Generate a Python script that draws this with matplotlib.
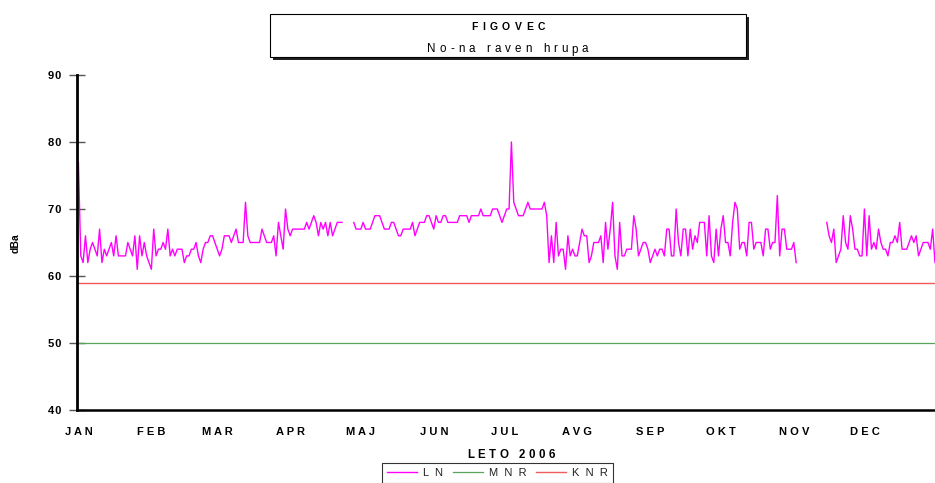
import numpy as np
import matplotlib
matplotlib.use("Agg")
import matplotlib.pyplot as plt
from matplotlib.patches import Rectangle
from matplotlib.font_manager import FontProperties

FAM = ['Liberation Sans', 'DejaVu Sans']
plt.rcParams['font.family'] = FAM

N = None
ln_jan = [77,63,62,66,62,64,65,64,63,67,62,64,63,64,65,63,66,63,63,63,63,65,64,63,66,61,66,63,65,63,62]
ln_feb = [61,67,63,64,64,65,64,67,63,64,63,64,64,64,62,63,63,64,64,65,63,62,64,65,65,66,66,65]
ln_mar = [64,63,64,66,66,66,65,66,67,65,65,65,71,66,65,65,65,65,65,67,66,65,65,65,66,63,68,66,64,70,67]
ln_apr = [66,67,67,67,67,67,67,68,67,68,69,68,66,68,67,68,66,68,66,67,68,68,68,N,N,N,N,68,67,67]
ln_maj = [67,68,67,67,67,68,69,69,69,68,67,67,67,68,68,67,66,66,67,67,67,67,68,66,67,68,68,68,69,69,68]
ln_jun = [67,69,68,68,69,69,68,68,68,68,68,69,69,69,69,68,69,69,69,69,70,69,69,69,69,70,70,70,69,68]
ln_jul = [69,70,70,80,71,70,69,69,69,70,71,70,70,70,70,70,70,71,69,62,66,62,68,63,64,64,61,66,63,64,63]
ln_avg = [63,65,67,66,66,62,63,65,65,65,66,62,68,64,67,71,63,61,68,63,63,64,64,64,69,67,63,64,65,65,64]
ln_sep = [62,63,64,63,64,64,63,67,67,63,63,70,65,63,67,67,63,67,64,66,65,68,68,68,63,69,63,62,67,63]
ln_okt = [67,69,65,65,63,68,71,70,64,65,65,63,68,68,64,65,65,65,63,67,67,64,65,65,72,63,67,67,64,64,64]
ln_nov = [65,62,N,N,N,N,N,N,N,N,N,N,N,N,68,66,65,67,62,63,64,69,65,64,69,67,64,64,63,63]
ln_dec = [70,63,69,64,65,64,67,65,64,64,63,65,65,66,65,68,64,64,64,65,66,65,66,63,64,65,65,65,64,67,62]

mnr_level = 50
knr_level = 59

month_labels = ['JAN','FEB','MAR','APR','MAJ','JUN','JUL','AVG','SEP','OKT','NOV','DEC']
y_ticks = [40, 50, 60, 70, 80, 90]
title = 'FIGOVEC'
subtitle = 'No-na raven hrupa'
xlabel = 'LETO 2006'
ylabel = 'dBa'
series_names = ['LN', 'MNR', 'KNR']

months = [ln_jan, ln_feb, ln_mar, ln_apr, ln_maj, ln_jun, ln_jul, ln_avg, ln_sep, ln_okt, ln_nov, ln_dec]
ln = np.array([np.nan if v is None else v for m in months for v in m], dtype=float)
days = np.arange(len(ln))
month_starts = np.cumsum([0] + [len(m) for m in months[:-1]])
mnr = np.full(len(ln), mnr_level, dtype=float)
knr = np.full(len(ln), knr_level, dtype=float)

def sp(s, gap=' '):
    return gap.join(s)

W, H = 935, 483
fig = plt.figure(figsize=(W/100, H/100), dpi=100)
renderer = fig.canvas.get_renderer()

def tracked(xc, yb, s, width, size, weight='normal', zorder=3):
    """Draw letter-spaced text centred at xc (px), baseline yb (px from top), spanning `width` px."""
    prop = FontProperties(family=FAM, size=size, weight=weight)
    em = size * 100 / 72
    ws = []
    for ch in s:
        if ch == ' ':
            ws.append(0.278 * em)
        else:
            w, _, _ = renderer.get_text_width_height_descent(ch, prop, ismath=False)
            ws.append(w)
    track = (width - sum(ws)) / (len(s) - 1)
    x = xc - width / 2
    for ch, w in zip(s, ws):
        if ch != ' ':
            fig.text(x / W, 1 - yb / H, ch, fontproperties=prop, ha='left', va='baseline', zorder=zorder)
        x += w + track

ax = fig.add_axes([77/W, (H-410)/H, 858/W, 335/H])

l1, = ax.plot(days, ln, color='#ff00ff', lw=1.0, label=sp(series_names[0], '  '))
l2, = ax.plot(days, mnr, color='#5aa35a', lw=0.9, label=sp(series_names[1], '  '))
l3, = ax.plot(days, knr, color='#f05a5a', lw=1.0, label=sp(series_names[2], '  '))

ax.set_xlim(-0.6, len(ln)-1)
ax.set_ylim(40, 90)
ax.spines['top'].set_visible(False)
ax.spines['right'].set_visible(False)
ax.spines['left'].set_linewidth(2.0)
ax.spines['bottom'].set_linewidth(1.8)

ax.set_yticks(y_ticks)
ax.set_yticklabels([sp(str(t), '\u200a') for t in y_ticks], fontsize=8, fontweight='bold')
ax.tick_params(axis='y', direction='inout', length=11, width=1, color='#555555', pad=6)
ax.set_xticks(month_starts)
ax.set_xticklabels([sp(m) for m in month_labels], fontsize=8, fontweight='bold')
ax.tick_params(axis='x', length=0, pad=12)

fig.text(16/W, 1-243/H, ylabel, rotation=90, fontsize=7.5, fontweight='bold', ha='center', va='center')
tracked(511, 458, xlabel, 88, 8.3, weight='bold')

# title box with shadow
bx0, by0, bx1, by1 = 270, 14, 746, 57
shadow = Rectangle(((bx0+3)/W, (H-by1-3)/H), (bx1-bx0)/W, (by1-by0)/H, transform=fig.transFigure,
                   facecolor='#222222', edgecolor='none', zorder=1)
box = Rectangle((bx0/W, (H-by1)/H), (bx1-bx0)/W, (by1-by0)/H, transform=fig.transFigure,
                facecolor='white', edgecolor='black', lw=0.8, zorder=2)
fig.patches.extend([shadow, box])
tracked(508, 30, title, 74, 7.5, weight='bold')
tracked(508, 52.5, subtitle, 161, 8.4)

leg = fig.legend(handles=[l1, l2, l3], loc='upper center', bbox_to_anchor=(497.5/W, 1-463/H), ncol=3,
                 fontsize=8, frameon=True, fancybox=False, edgecolor='black', handlelength=2.7,
                 handletextpad=0.5, columnspacing=0.9, borderpad=0.45, borderaxespad=0)
leg.get_frame().set_linewidth(0.8)
for t in leg.get_texts():
    t.set_color('#222222')

fig.savefig('out.png', dpi=100)
